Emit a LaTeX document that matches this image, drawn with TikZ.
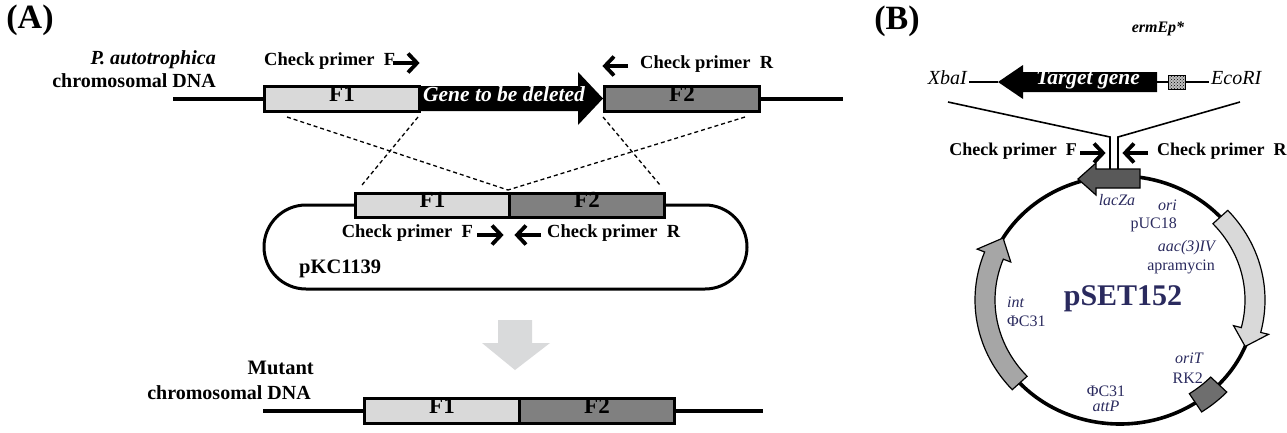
\documentclass[tikz,border=0pt]{standalone}
\usepackage{fontspec}
\setmainfont{Liberation Serif}
\usetikzlibrary{patterns}

\definecolor{lightfill}{HTML}{D9D9D9}
\definecolor{darkfill}{HTML}{808080}
\definecolor{lacfill}{HTML}{595959}
\definecolor{intfill}{HTML}{A6A6A6}
\definecolor{oritfill}{HTML}{6E6E6E}
\definecolor{navy}{HTML}{2A2A5E}
\definecolor{bigarrow}{HTML}{D9DADB}

\begin{document}
\begin{tikzpicture}[x=1pt,y=-1pt,
  txt/.style={inner sep=0pt, text height=0.7em, text depth=0.2em},
  panel/.style={txt, font=\bfseries\fontsize{34}{36}\selectfont},
  lbl/.style={txt, font=\bfseries\fontsize{20}{22}\selectfont},
  primer/.style={txt, font=\bfseries\fontsize{18.5}{20}\selectfont},
  seg/.style={txt, draw=black, line width=3pt, minimum height=25pt, anchor=west,
              font=\bfseries\fontsize{23}{24}\selectfont},
  segA/.style={seg, fill=lightfill},
  segB/.style={seg, fill=darkfill},
  dna/.style={line width=4pt},
  recomb/.style={line width=1.3pt, dash pattern=on 4pt off 3pt},
  primshaft/.style={line width=3.8pt},
  chevron/.pic={\draw[line width=3.8pt, line join=miter] (-9,-9.5) -- (0,0) -- (-9,9.5);},
  thin/.style={line width=1.6pt},
  mapl/.style={txt, text=navy, font=\fontsize{16}{18}\selectfont},
  mapi/.style={mapl, font=\itshape\fontsize{16}{18}\selectfont},
  feat/.style={draw=black, line width=1.2pt}
]
\useasboundingbox (0,0) rectangle (1287,432);

% ---------------- (A) ----------------
\node[panel] (labA) at (30,26) {(A)};

% wild-type chromosome
\node[lbl, anchor=east, font=\bfseries\itshape\fontsize{20}{22}\selectfont] (orgname) at (216,62) {P. autotrophica};
\node[lbl, anchor=east] (chromtxt) at (216,85) {chromosomal DNA};

\coordinate (chrL) at (173,98.5);
\coordinate (chrR) at (843,98.5);
\fill[black] (418,86) -- (578,86) -- (578,72) -- (603,98.5) -- (578,125) -- (578,111) -- (418,111) -- cycle;
\node[txt, text=white, font=\bfseries\itshape\fontsize{21.5}{23}\selectfont] (gene) at (504,98.5) {Gene to be deleted};
\node[segA, minimum width=155pt] (cF1) at (263,98.5) {F1};
\node[segB, minimum width=155pt] (cF2) at (603,98.5) {F2};
\draw[dna] (chrL) -- (cF1.west);
\draw[dna] (cF2.east) -- (chrR);

\node[primer, anchor=west] (cpF) at (264,63) {Check primer\ \ F};
\coordinate (cpFa) at (393,63);
\coordinate (cpFb) at (417,63);
\draw[primshaft] (cpFa) -- (cpFb);
\pic at (cpFb) {chevron};
\node[primer, anchor=west] (cpR) at (640,66) {Check primer\ \ R};
\coordinate (cpRa) at (628,66);
\coordinate (cpRb) at (605,66);
\draw[primshaft] (cpRa) -- (cpRb);
\pic[rotate=180] at (cpRb) {chevron};

% crossover lines
\coordinate (dA) at (287,117);
\coordinate (dB) at (418,117);
\coordinate (dC) at (603,117);
\coordinate (dD) at (745,117);
\coordinate (pL) at (362,185);
\coordinate (pR) at (660,185);
\coordinate (pJ) at (508,190);
\draw[recomb] (dA) -- (pJ);
\draw[recomb] (dD) -- (pJ);
\draw[recomb] (dB) -- (pL);
\draw[recomb] (dC) -- (pR);

% pKC1139 plasmid
\draw[line width=3pt, rounded corners=42pt] (264,205) rectangle (747,289);
\node[segA, minimum width=154pt, minimum height=24pt] (pF1) at (354,205) {F1};
\node[segB, minimum width=155pt, minimum height=24pt] (pF2) at (508,205) {F2};
\node[primer, anchor=east] (ppF) at (473,235) {Check primer\ \ F};
\coordinate (ppFa) at (477,235);
\coordinate (ppFb) at (501,235);
\draw[primshaft] (ppFa) -- (ppFb);
\pic at (ppFb) {chevron};
\coordinate (ppRa) at (541,235);
\coordinate (ppRb) at (517,235);
\draw[primshaft] (ppRa) -- (ppRb);
\pic[rotate=180] at (ppRb) {chevron};
\node[primer, anchor=west] (ppR) at (547,235) {Check primer\ \ R};
\node[lbl, anchor=west, font=\bfseries\fontsize{20.5}{22}\selectfont] (pkc) at (299,271) {pKC1139};

% transition arrow
\fill[bigarrow] (498,320) -- (532,320) -- (532,343) -- (550,343) -- (515,370) -- (482,343) -- (498,343) -- cycle;

% mutant chromosome
\node[lbl, anchor=east, font=\bfseries\fontsize{20.5}{22}\selectfont] (mut) at (314,372) {Mutant};
\node[lbl, anchor=east] (mutchrom) at (311,397) {chromosomal DNA};
\coordinate (mL) at (263,411);
\coordinate (mR) at (763,411);
\node[segA, minimum width=155pt] (mF1) at (363,411) {F1};
\node[segB, minimum width=155pt] (mF2) at (518,411) {F2};
\draw[dna] (mL) -- (mF1.west);
\draw[dna] (mF2.east) -- (mR);

% ---------------- (B) ----------------
\node[panel] (labB) at (897,27) {(B)};

% insert cassette
\node[txt, anchor=east, font=\itshape\fontsize{20}{22}\selectfont] (xba) at (967,82) {XbaI};
\node[txt, anchor=west, font=\itshape\fontsize{20}{22}\selectfont] (eco) at (1211,82) {EcoRI};
\coordinate (xbaE) at (969,82);
\coordinate (ecoW) at (1209,82);
\coordinate (tgTip) at (998,82);
\coordinate (tgEnd) at (1157,82);
\draw[thin] (xbaE) -- (tgTip);
\fill[black] (998,82) -- (1023,65) -- (1023,72) -- (1157,72) -- (1157,92) -- (1023,92) -- (1023,99) -- cycle;
\node[txt, text=white, font=\bfseries\itshape\fontsize{21.5}{23}\selectfont] (tgene) at (1088,82) {Target gene};
\node[draw=black, line width=1pt, minimum width=17pt, minimum height=14pt, inner sep=0pt,
      preaction={fill=black!25}, pattern=crosshatch dots, pattern color=black] (erm) at (1176.5,82) {};
\draw[thin] (tgEnd) -- (erm.west);
\draw[thin] (erm.east) -- (ecoW);
\node[txt, font=\bfseries\itshape\fontsize{16}{18}\selectfont] (ermtxt) at (1158,30) {ermEp*};

% cloning site lines into the vector
\coordinate (vL0) at (948,102);
\coordinate (vL1) at (1110,137);
\coordinate (vL2) at (1110,170);
\coordinate (vR0) at (1240,102);
\coordinate (vR1) at (1118,137);
\coordinate (vR2) at (1118,170);
\draw[thin] (vL0) -- (vL1) -- (vL2);
\draw[thin] (vR0) -- (vR1) -- (vR2);

\node[primer, anchor=east, font=\bfseries\fontsize{18}{20}\selectfont] (bpF) at (1077,153) {Check primer\ \ F};
\coordinate (bpFa) at (1080,153);
\coordinate (bpFb) at (1103,153);
\draw[primshaft] (bpFa) -- (bpFb);
\pic at (bpFb) {chevron};
\coordinate (bpRa) at (1148,153);
\coordinate (bpRb) at (1125,153);
\draw[primshaft] (bpRa) -- (bpRb);
\pic[rotate=180] at (bpRb) {chevron};
\node[primer, anchor=west, font=\bfseries\fontsize{18}{20}\selectfont] (bpR) at (1157,153) {Check primer\ \ R};

% pSET152 map
\begin{scope}[shift={(1120,300)}, x=1pt, y=1pt]
  \draw[line width=3.6pt] (0,0) ellipse [x radius=135pt, y radius=124pt];
  % int
  \filldraw[feat, fill=intfill]
    (222:145pt and 134pt) arc[start angle=222, end angle=159, x radius=145pt, y radius=134pt]
    -- (159:153pt and 142pt) -- (150:135pt and 124pt) -- (159:117pt and 106pt)
    -- (159:125pt and 114pt) arc[start angle=159, end angle=222, x radius=125pt, y radius=114pt]
    -- cycle;
  % aac(3)IV
  \filldraw[feat, fill=lightfill]
    (42:145pt and 134pt) arc[start angle=42, end angle=-14, x radius=145pt, y radius=134pt]
    -- (-14:153pt and 142pt) -- (-22:135pt and 124pt) -- (-14:117pt and 106pt)
    -- (-14:125pt and 114pt) arc[start angle=-14, end angle=42, x radius=125pt, y radius=114pt]
    -- cycle;
  % oriT
  \filldraw[feat, fill=oritfill]
    (-43:146pt and 135pt) arc[start angle=-43, end angle=-56, x radius=146pt, y radius=135pt]
    -- (-56:124pt and 113pt) arc[start angle=-56, end angle=-43, x radius=124pt, y radius=113pt]
    -- cycle;
\end{scope}
% lacZa
\filldraw[feat, fill=lacfill] (1140,169) -- (1096,169) -- (1096,163) -- (1078,179) -- (1096,195) -- (1096,188) -- (1140,188) -- cycle;

% map labels
\node[mapi] (lac) at (1117,203) {lacZa};
\node[mapi, anchor=east] (ori) at (1177,208) {ori};
\node[mapl, anchor=east] (puc) at (1177,226) {pUC18};
\node[mapi, anchor=east] (aac) at (1215,249) {aac(3)IV};
\node[mapl, anchor=east] (apr) at (1215,268) {apramycin};
\node[txt, text=navy, font=\bfseries\fontsize{30}{32}\selectfont] (pset) at (1123,303) {pSET152};
\node[mapi, anchor=west] (int) at (1007,305) {int};
\node[mapl, anchor=west] (phi1) at (1007,324) {ΦC31};
\node[mapi, anchor=east] (orit) at (1203,361) {oriT};
\node[mapl, anchor=east] (rk) at (1203,381) {RK2};
\node[mapl] (phi2) at (1106,394) {ΦC31};
\node[mapi] (attp) at (1106,409) {attP};
\end{tikzpicture}
\end{document}
